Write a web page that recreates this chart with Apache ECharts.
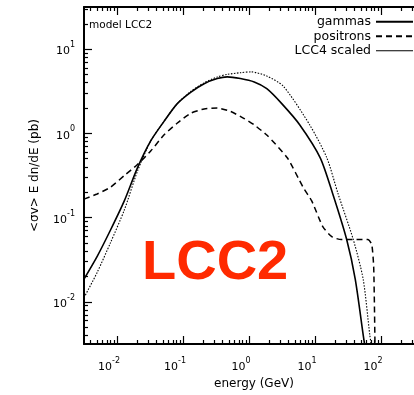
<!DOCTYPE html>
<html>
<head>
<meta charset="utf-8">
<script src="https://cdn.jsdelivr.net/npm/echarts@6/dist/echarts.min.js"></script>
<style>html,body{margin:0;padding:0;background:#fff}#c{width:414px;height:395px}</style>
</head>
<body>
<div id="c"></div>
<script>
// ---- data (energy in GeV, value in pb) ----
const gammaE = [0.00316,0.00501,0.00794,0.0129,0.0204,0.0324,0.0513,0.0813,0.132,0.209,0.331,0.468,0.741,1.20,1.86,3.16,5.89,12.0,18.6,30.2,40.7,53.7,57.5];
const gammaV = [0.0186,0.0347,0.0708,0.158,0.389,0.813,1.38,2.24,3.09,3.89,4.47,4.68,4.47,4.07,3.39,2.24,1.26,0.513,0.191,0.055,0.0186,0.00407,0.00282];
const positronE = [0.00316,0.00501,0.00794,0.0129,0.0204,0.0324,0.0513,0.0813,0.132,0.209,0.331,0.525,0.832,1.20,1.86,3.80,6.61,8.91,13.2,18.2,25.1,63.1,72.4,77.6,81.3];
const positronV = [0.166,0.191,0.229,0.316,0.427,0.617,0.955,1.32,1.74,1.95,2.00,1.82,1.51,1.26,0.955,0.513,0.229,0.158,0.0776,0.0589,0.055,0.055,0.0479,0.0251,0.00251];
const lcc4E = [0.00316,0.00501,0.00794,0.0129,0.0204,0.0324,0.0513,0.0813,0.132,0.209,0.331,0.468,0.741,1.07,1.86,3.31,8.32,15.1,22.4,38.0,53.7,67.6,74.1];
const lcc4V = [0.0112,0.0224,0.0501,0.123,0.355,0.813,1.38,2.24,3.16,3.98,4.68,5.01,5.25,5.37,4.79,3.63,1.26,0.513,0.191,0.055,0.0186,0.00407,0.00251];
const seriesNames = ['gammas','positrons','LCC4 scaled'];
const xTickExps = [-2,-1,0,1,2];
const yTickExps = [-2,-1,0,1];
const xRange = [-2.5, 2.5];
const yRange = [-2.5, 1.5];

function toLog(E, V){ return E.map((e,i)=>[Math.log10(e), Math.log10(V[i])]); }
function minorTicks(lo, hi){
  const out=[];
  for(let n=Math.floor(lo)-1;n<=Math.ceil(hi);n++){
    for(let k=2;k<=9;k++){ const v=n+Math.log10(k); if(v>lo && v<hi) out.push(v); }
  }
  return out;
}
const FONT='DejaVu Sans';
const rich = {
  b:{fontSize:11,fontFamily:FONT,color:'#000',lineHeight:16,verticalAlign:'bottom'},
  s:{fontSize:8,fontFamily:FONT,color:'#000',lineHeight:10,verticalAlign:'top'}
};
function fmt(v){ const e=Math.round(v); return '{b|10}{s|'+(e<0?'-':'')+Math.abs(e)+'}'; }
const axLine={show:true,onZero:false,lineStyle:{color:'#000',width:2}};
const noLine={show:false,onZero:false};
function xAx(pos, major, withLabel){
  return {type:'value',min:xRange[0],max:xRange[1],position:pos,
    axisLine: major?axLine:noLine,
    splitLine:{show:false},
    axisTick:{show:true,inside:true,length:major?8:4,lineStyle:{color:'#000',width:1.2},
      customValues: major?xTickExps:minorTicks(xRange[0],xRange[1])},
    axisLabel: withLabel?{show:true,customValues:xTickExps,formatter:fmt,rich:rich,margin:13,padding:[0,16,0,0]}:{show:false},
    name: withLabel?'energy (GeV)':'', nameLocation:'middle', nameGap:34,
    nameTextStyle:{fontFamily:FONT,fontSize:12,color:'#000',padding:[0,0,0,10]}
  };
}
function yAx(pos, major, withLabel){
  return {type:'value',min:yRange[0],max:yRange[1],position:pos,
    axisLine: major?axLine:noLine,
    splitLine:{show:false},
    axisTick:{show:true,inside:true,length:major?8:4,lineStyle:{color:'#000',width:1.2},
      customValues: major?yTickExps:minorTicks(yRange[0],yRange[1])},
    axisLabel: withLabel?{show:true,customValues:yTickExps,formatter:fmt,rich:rich,margin:9}:{show:false},
    name: withLabel?'<σv> E dn/dE (pb)':'', nameLocation:'middle', nameGap:43,
    nameTextStyle:{fontFamily:FONT,fontSize:12,color:'#000'}
  };
}
const chart = echarts.init(document.getElementById('c'), null, {renderer:'canvas'});
chart.setOption({
  animation:false,
  backgroundColor:'#fff',
  grid:{left:84,right:0,top:7,bottom:45.5,containLabel:false},
  xAxis:[xAx('bottom',true,true),xAx('bottom',false,false),xAx('top',true,false),xAx('top',false,false)],
  yAxis:[yAx('left',true,true),yAx('left',false,false)],
  legend:{
    orient:'vertical', right:0, top:15, align:'right', itemWidth:37, itemHeight:10, itemGap:1, padding:0,
    itemStyle:{color:'rgba(0,0,0,0)',borderColor:'rgba(0,0,0,0)',borderWidth:0,opacity:0},
    textStyle:{fontFamily:FONT,fontSize:12.5,color:'#000',lineHeight:13.5},
    data:[
      {name:seriesNames[0]},
      {name:seriesNames[1]},
      {name:seriesNames[2], lineStyle:{type:'solid',width:1.2}}
    ]
  },
  series:[
    {name:seriesNames[0],type:'line',data:toLog(gammaE,gammaV),showSymbol:false,symbol:'none',smooth:0.25,
      lineStyle:{color:'#000',width:1.6,type:'solid'},itemStyle:{color:'#000'},clip:true},
    {name:seriesNames[1],type:'line',data:toLog(positronE,positronV),showSymbol:false,symbol:'none',smooth:0.2,
      lineStyle:{color:'#000',width:1.5,type:[6,4]},itemStyle:{color:'#000'},clip:true},
    {name:seriesNames[2],type:'line',data:toLog(lcc4E,lcc4V),showSymbol:false,symbol:'none',smooth:0.25,
      lineStyle:{color:'#000',width:1.1,type:[1.5,1.5]},itemStyle:{color:'#000'},clip:true}
  ],
  graphic:[
    {type:'text',left:89,top:20,style:{text:'model LCC2',font:'10.5px "DejaVu Sans"',fill:'#000'}},
    {type:'text',x:142,y:264,style:{text:'LCC2',font:'bold 56px "Liberation Sans"',fill:'#ff2a00',textVerticalAlign:'middle'}}
  ]
});
</script>
</body>
</html>
